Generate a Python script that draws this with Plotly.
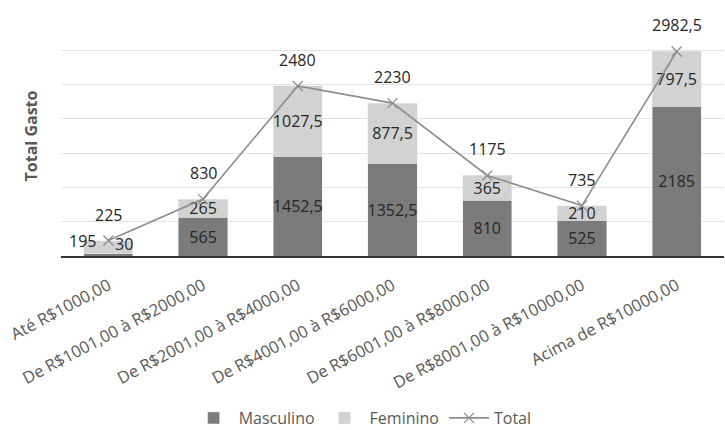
import plotly.graph_objects as go

categorias = ["Até R$1000,00", "De R$1001,00 à R$2000,00", "De R$2001,00 à R$4000,00",
              "De R$4001,00 à R$6000,00", "De R$6001,00 à R$8000,00",
              "De R$8001,00 à R$10000,00", "Acima de R$10000,00"]
masculino = [30, 565, 1452.5, 1352.5, 810, 525, 2185]
feminino = [195, 265, 1027.5, 877.5, 365, 210, 797.5]
total = [225, 830, 2480, 2230, 1175, 735, 2982.5]

def fmt(v):
    return ("%g" % v).replace(".", ",")

FONT = "Open Sans"
DARK = "#7b7b7b"
LIGHT = "#d2d2d2"
LINE = "#8e8e8e"
TXT = "#262626"
LBL = 16

# first category labels are placed outside the bar (as in the source chart)
m_text = [fmt(v) if i > 0 else "" for i, v in enumerate(masculino)]
f_text = [fmt(v) if i > 0 else "" for i, v in enumerate(feminino)]

fig = go.Figure()
fig.add_trace(go.Bar(x=categorias, y=masculino, name="Masculino", marker_color=DARK,
                     text=m_text, textposition="inside", insidetextanchor="middle", textangle=0,
                     textfont=dict(family=FONT, size=LBL, color=TXT), cliponaxis=False))
fig.add_trace(go.Bar(x=categorias, y=feminino, name="Feminino", marker_color=LIGHT,
                     text=f_text, textposition="inside", insidetextanchor="middle", textangle=0,
                     textfont=dict(family=FONT, size=LBL, color=TXT), cliponaxis=False))
fig.add_trace(go.Scatter(x=categorias, y=total, name="Total", mode="lines+markers",
                         line=dict(color=LINE, width=1.6),
                         marker=dict(symbol="x-thin", size=10, line=dict(color=LINE, width=1.3))))

annotations = []
for c, t in zip(categorias, total):
    annotations.append(dict(x=c, y=t, text=fmt(t), showarrow=False, yshift=26,
                            font=dict(family=FONT, size=LBL, color=TXT)))
# first bar labels beside the marker
annotations.append(dict(x=categorias[0], y=total[0], text=fmt(feminino[0]), showarrow=False,
                        xshift=-26, yshift=0, font=dict(family=FONT, size=LBL, color=TXT)))
annotations.append(dict(x=categorias[0], y=total[0], text=fmt(masculino[0]), showarrow=False,
                        xshift=16, yshift=-3, font=dict(family=FONT, size=LBL, color=TXT)))

fig.update_layout(
    width=725, height=430,
    barmode="stack", bargap=0.48,
    plot_bgcolor="white", paper_bgcolor="white",
    margin=dict(l=61, r=1, t=16, b=174, autoexpand=False),
    font=dict(family=FONT, size=16, color="#595959"),
    uniformtext=dict(minsize=LBL, mode="show"),
    annotations=annotations,
    legend=dict(orientation="h", x=0.455, xanchor="center", y=-0.675, yanchor="middle",
                font=dict(family=FONT, size=16, color="#595959"), traceorder="normal",
                itemwidth=40),
    showlegend=True,
)
fig.update_yaxes(range=[0, 3500], dtick=500, showticklabels=False, showgrid=True,
                 gridcolor="#e3e3e3", gridwidth=1, zeroline=False, automargin=False,
                 title=dict(text="<b>Total Gasto</b>", standoff=18,
                            font=dict(family=FONT, size=16, color="#595959")))
fig.update_xaxes(tickangle=-28, showline=True, linecolor="#333333", linewidth=1.5,
                 automargin=False, ticklabelstandoff=12,
                 tickfont=dict(family=FONT, size=16.5, color="#595959"), ticks="")

fig.write_html("out.html")
